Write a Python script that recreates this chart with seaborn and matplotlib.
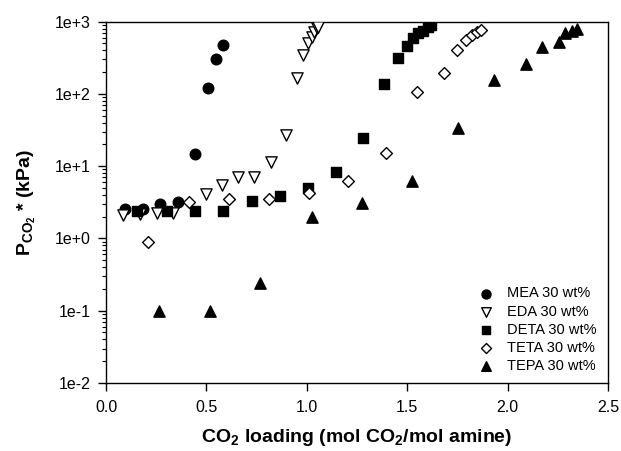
import numpy as np
import pandas as pd
import matplotlib
matplotlib.use("Agg")
import matplotlib.pyplot as plt
from matplotlib.ticker import LogLocator, FixedLocator, FixedFormatter
import seaborn as sns

# Datos
# ==============================================================================
mea_x = [0.095, 0.186, 0.269, 0.36, 0.443, 0.509, 0.548, 0.581]
mea_y = [2.52, 2.52, 2.98, 3.2, 14.6, 120, 307, 480]

eda_x = [0.086, 0.17, 0.252, 0.335, 0.498, 0.576, 0.659, 0.737, 0.82, 0.895,
         0.95, 0.983, 1.008, 1.024, 1.036, 1.049, 1.057]
eda_y = [2.1, 2.2, 2.26, 2.26, 4.07, 5.47, 7.13, 7.13, 11.5, 27,
         164, 346, 500, 620, 727, 810, 853]

deta_x = [0.153, 0.302, 0.443, 0.584, 0.725, 0.867, 1.008, 1.146, 1.281,
          1.384, 1.455, 1.5, 1.53, 1.555, 1.58, 1.605, 1.617]
deta_y = [2.41, 2.41, 2.41, 2.41, 3.29, 3.86, 5.0, 8.35, 24.7,
          136, 311, 466, 589, 690, 750, 836, 900]

teta_x = [0.211, 0.415, 0.614, 0.813, 1.011, 1.204, 1.394, 1.547, 1.685,
          1.75, 1.793, 1.821, 1.846, 1.866]
teta_y = [0.88, 3.21, 3.47, 3.47, 4.2, 6.22, 15.3, 107, 193,
          405, 557, 654, 727, 767]

tepa_x = [0.264, 0.518, 0.769, 1.024, 1.274, 1.522, 1.755, 1.934, 2.09,
          2.17, 2.257, 2.287, 2.32, 2.344]
tepa_y = [0.1, 0.1, 0.243, 1.95, 3.11, 6.28, 34, 156, 257,
          442, 528, 690, 743, 793]

labels = ["MEA 30 wt%", "EDA 30 wt%", "DETA 30 wt%", "TETA 30 wt%", "TEPA 30 wt%"]
y_ticks = [1e-2, 1e-1, 1e0, 1e1, 1e2, 1e3]
y_ticklabels = ["1e-2", "1e-1", "1e+0", "1e+1", "1e+2", "1e+3"]
x_ticks = [0.0, 0.5, 1.0, 1.5, 2.0, 2.5]

# Configuracion
# ==============================================================================
sns.set_style("white")
plt.rcParams['font.family'] = ['Liberation Sans', 'DejaVu Sans']
plt.rcParams['mathtext.fontset'] = 'custom'
plt.rcParams['mathtext.rm'] = 'Liberation Sans'
plt.rcParams['mathtext.bf'] = 'Liberation Sans:bold'
plt.rcParams['text.color'] = 'black'
plt.rcParams['axes.labelcolor'] = 'black'

fig = plt.figure(figsize=(6.21, 4.51), dpi=100)
ax = fig.add_axes([0.1707, 0.1508, 0.8083, 0.8012])

series = [
    (mea_x, mea_y, "o", "black", 58),
    (eda_x, eda_y, "v", "white", 66),
    (deta_x, deta_y, "s", "black", 46),
    (teta_x, teta_y, "D", "white", 36),
    (tepa_x, tepa_y, "^", "black", 66),
]

for (xs, ys, mk, fc, s), lab in zip(series, labels):
    df = pd.DataFrame({"x": xs, "y": ys})
    sns.scatterplot(data=df, x="x", y="y", marker=mk, color=fc,
                    edgecolor="black", linewidth=1.0, s=s, label=lab, ax=ax,
                    zorder=3)

ax.set_yscale("log")
ax.set_xlim(0, 2.5)
ax.set_ylim(1e-2, 1e3)
ax.yaxis.set_major_locator(FixedLocator(y_ticks))
ax.yaxis.set_major_formatter(FixedFormatter(y_ticklabels))
ax.yaxis.set_minor_locator(LogLocator(base=10, subs=np.arange(2, 10)))
ax.yaxis.set_minor_formatter(FixedFormatter([]))
ax.set_xticks(x_ticks)
ax.set_xticklabels(["%.1f" % t for t in x_ticks])

ax.tick_params(axis="both", which="major", direction="out", length=6,
               width=1, colors="black", labelsize=11.5, pad=5,
               left=True, bottom=True, top=False, right=False)
ax.tick_params(axis="x", which="major", pad=6)
ax.tick_params(axis="y", which="minor", direction="out", length=3,
               width=0.8, colors="black", left=True, right=False)
for sp in ax.spines.values():
    sp.set_color("black")
    sp.set_linewidth(1.0)

ax.set_xlabel(r"CO$_\mathbf{2}$ loading (mol CO$_\mathbf{2}$/mol amine)",
              fontsize=14, fontweight="bold", labelpad=9)
ax.set_ylabel(r"P$_\mathbf{CO_2}$ * (kPa)", fontsize=14,
              fontweight="bold", labelpad=12)

leg = ax.legend(loc="lower right", frameon=False, fontsize=10.5,
                handletextpad=0.45, labelspacing=0.28, markerscale=0.85,
                bbox_to_anchor=(0.997, 0.0), borderaxespad=0.3)
for t in leg.get_texts():
    t.set_color("black")

fig.savefig("out.png", dpi=100)
